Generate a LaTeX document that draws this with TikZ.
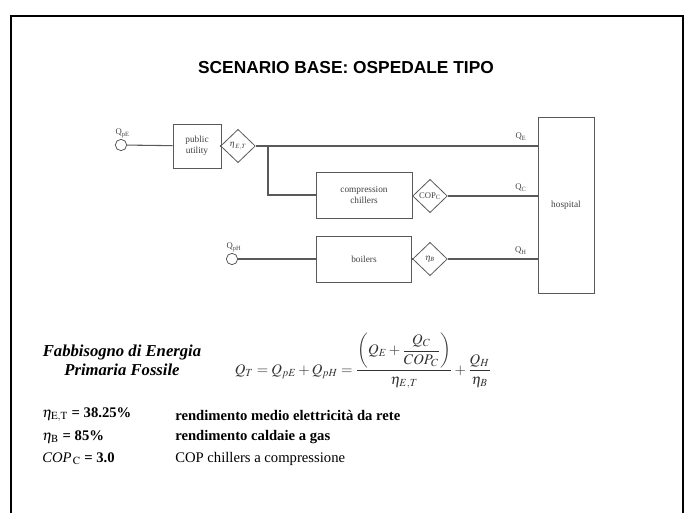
\documentclass[tikz,border=0pt]{standalone}
\usepackage{amsmath}
\usepackage{mathptmx}
\usepackage{fontspec}
\setmainfont{Liberation Serif}
\setsansfont{Liberation Sans}
\usetikzlibrary{shapes.geometric}

\begin{document}
\begin{tikzpicture}[
    x=0.75pt, y=-0.75pt,
    unit node/.style={rectangle, draw=black!65, line width=0.6pt, align=center, inner sep=1pt, text=black!75, font=\fontsize{7}{8.5}\selectfont},
    gain node/.style={diamond, draw=black!65, line width=0.6pt, fill=white, minimum width=26pt, minimum height=25pt, inner sep=0pt, text=black!75, font=\fontsize{6.5}{7}\selectfont},
    source node/.style={circle, draw=black!65, line width=0.6pt, minimum size=8.5pt, inner sep=0pt},
    flow label/.style={inner sep=1pt, text=black!75, font=\fontsize{6.5}{7}\selectfont},
    flow/.style={draw=black!65, line width=0.8pt},
    row label/.style={anchor=west, inner sep=0pt, font=\bfseries\fontsize{11}{12}\selectfont},
    row text/.style={anchor=west, inner sep=0pt, font=\bfseries\fontsize{11}{12}\selectfont}
]
    \useasboundingbox (0,0) rectangle (688,513);
    % Frame and title
    \draw[line width=2pt] (11,513) -- (11,16) -- (683,16) -- (683,513);
    \node[font=\sffamily\bfseries\fontsize{13}{15}\selectfont] (title) at (346,68) {SCENARIO BASE: OSPEDALE TIPO};

    % Sources
    \node[source node] (QpE) at (121,145) {};
    \node[source node] (QpH) at (232,259) {};
    \node[flow label, anchor=south west] (lQpE) at (114,139) {Q$_{\text{pE}}$};
    \node[flow label, anchor=south west] (lQpH) at (225,253) {Q$_{\text{pH}}$};

    % Plants
    \node[unit node, minimum width=36pt, minimum height=33pt] (util) at (197,146) {public\\utility};
    \node[unit node, minimum width=72pt, minimum height=34.5pt] (chill) at (364,195) {compression\\chillers};
    \node[unit node, minimum width=71pt, minimum height=34.5pt] (boil) at (364,259) {boilers};
    \node[unit node, minimum width=42pt, minimum height=132pt] (hosp) at (566,205) {hospital};

    % Efficiencies
    \node[gain node] (etaET) at (238,146) {$\eta_{\,E,T}$};
    \node[gain node] (cop) at (430,196) {COP$_{\text{C}}$};
    \node[gain node] (etaB) at (430,259) {$\eta_{B}$};
    \coordinate (split) at (268,146);

    % Flows
    \draw[flow] (QpE) -- (util);
    \draw[flow] (util) -- (etaET);
    \draw[flow] (etaET) -- (etaET -| hosp.west);
    \draw[flow] (split) |- (chill);
    \draw[flow] (chill) -- (cop);
    \draw[flow] (cop) -- (cop -| hosp.west);
    \draw[flow] (QpH) -- (boil);
    \draw[flow] (boil) -- (etaB);
    \draw[flow] (etaB) -- (etaB -| hosp.west);
    \node[flow label, anchor=south] (QE) at (521,142) {Q$_{\text{E}}$};
    \node[flow label, anchor=south] (QC) at (521,193) {Q$_{\text{C}}$};
    \node[flow label, anchor=south] (QH) at (521,256) {Q$_{\text{H}}$};

    % Energy balance
    \node[align=center, font=\bfseries\itshape\fontsize{12.5}{14}\selectfont] (need) at (122,360) {Fabbisogno di Energia\\Primaria Fossile};
    \node[text=black!80, font=\fontsize{11}{13}\selectfont] (eq) at (363,361) {$Q_T = Q_{pE} + Q_{pH} = \dfrac{\left(Q_E + \dfrac{Q_C}{COP_C}\right)}{\eta_{E,T}} + \dfrac{Q_H}{\eta_B}$};

    % Parameters
    \node[row label] (pET) at (42,415) {$\eta_{\mathrm{E,T}}$ = 38.25\%};
    \node[row label] (pB) at (42,437) {$\eta_{\mathrm{B}}$ = 85\%};
    \node[row label] (pC) at (42,459) {\mdseries\textit{COP}$_{\,\mathrm{C}}$ \bfseries = 3.0};
    \node[row text] (dET) at (175,415) {rendimento medio elettricità da rete};
    \node[row text] (dB) at (175,437) {rendimento caldaie a gas};
    \node[row text, font=\fontsize{11}{12}\selectfont] (dC) at (175,459) {COP chillers a compressione};
\end{tikzpicture}
\end{document}
